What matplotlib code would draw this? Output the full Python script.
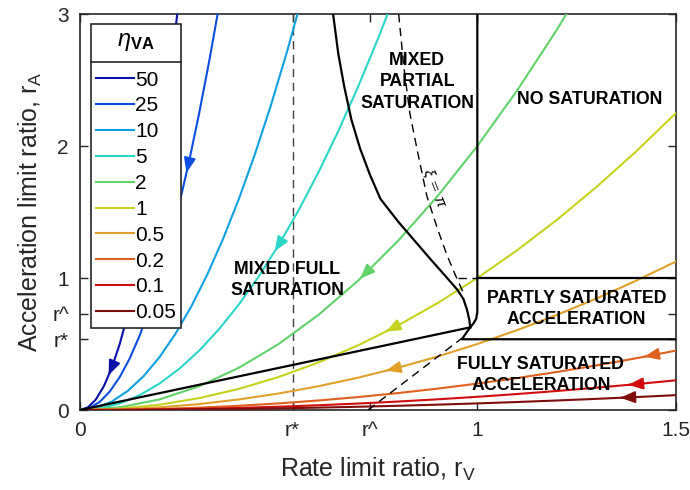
import numpy as np
import matplotlib
matplotlib.use('Agg')
import matplotlib.pyplot as plt
from matplotlib.lines import Line2D

plt.rcParams['font.family'] = ['Liberation Sans', 'DejaVu Sans']
plt.rcParams['mathtext.fontset'] = 'custom'
plt.rcParams['mathtext.rm'] = 'Liberation Sans'
plt.rcParams['mathtext.it'] = 'Liberation Sans:italic'
plt.rcParams['mathtext.bf'] = 'Liberation Sans:bold'

# ---------------- data ----------------
eta_labels = ['50', '25', '10', '5', '2', '1', '0.5', '0.2', '0.1', '0.05']
eta_colors = ['#0a10a8', '#0c4ee0', '#0ea0e0', '#2ad6c8', '#62d26a',
              '#c6d21e', '#e0a02a', '#e0601e', '#d00c0c', '#800c0c']

rV_50 = [0, 0.02, 0.04, 0.06, 0.08, 0.10, 0.12, 0.14, 0.16, 0.18, 0.20, 0.22, 0.24, 0.26]
rA_50 = [0, 0.02, 0.08, 0.18, 0.32, 0.50, 0.72, 0.98, 1.28, 1.62, 2.00, 2.42, 2.88, 3.38]

rV_25 = [0, 0.025, 0.05, 0.075, 0.10, 0.125, 0.15, 0.175, 0.20, 0.225, 0.25, 0.275, 0.30, 0.325, 0.35]
rA_25 = [0, 0.016, 0.0625, 0.14, 0.25, 0.39, 0.5625, 0.766, 1.00, 1.266, 1.5625, 1.89, 2.25, 2.64, 3.06]

rV_10 = [0, 0.04, 0.08, 0.12, 0.16, 0.20, 0.24, 0.28, 0.32, 0.36, 0.40, 0.44, 0.48, 0.52, 0.56]
rA_10 = [0, 0.016, 0.064, 0.144, 0.256, 0.40, 0.576, 0.784, 1.024, 1.296, 1.60, 1.936, 2.304, 2.704, 3.136]

rV_5 = [0, 0.05, 0.10, 0.15, 0.20, 0.25, 0.30, 0.35, 0.40, 0.45, 0.50, 0.55, 0.60, 0.65, 0.70, 0.75, 0.80]
rA_5 = [0, 0.0125, 0.05, 0.1125, 0.20, 0.3125, 0.45, 0.6125, 0.80, 1.0125, 1.25, 1.5125, 1.80, 2.1125, 2.45, 2.8125, 3.20]

rV_2 = [0, 0.1, 0.2, 0.3, 0.4, 0.5, 0.6, 0.7, 0.8, 0.9, 1.0, 1.1, 1.2, 1.3]
rA_2 = [0, 0.02, 0.08, 0.18, 0.32, 0.50, 0.72, 0.98, 1.28, 1.62, 2.00, 2.42, 2.88, 3.38]

rV_low = [0, 0.1, 0.2, 0.3, 0.4, 0.5, 0.6, 0.7, 0.8, 0.9, 1.0, 1.1, 1.2, 1.3, 1.4, 1.5]
rA_1 = [0, 0.01, 0.04, 0.09, 0.16, 0.25, 0.36, 0.49, 0.64, 0.81, 1.0, 1.21, 1.44, 1.69, 1.96, 2.25]
rA_05 = [0, 0.005, 0.02, 0.045, 0.08, 0.125, 0.18, 0.245, 0.32, 0.405, 0.5, 0.605, 0.72, 0.845, 0.98, 1.125]
rA_02 = [0, 0.002, 0.008, 0.018, 0.032, 0.05, 0.072, 0.098, 0.128, 0.162, 0.2, 0.242, 0.288, 0.338, 0.392, 0.45]
rA_01 = [0, 0.001, 0.004, 0.009, 0.016, 0.025, 0.036, 0.049, 0.064, 0.081, 0.1, 0.121, 0.144, 0.169, 0.196, 0.225]
rA_005 = [0, 0.0005, 0.002, 0.0045, 0.008, 0.0125, 0.018, 0.0245, 0.032, 0.0405, 0.05, 0.0605, 0.072, 0.0845, 0.098, 0.1125]

# where the direction arrows sit on each curve (rV of arrow tip), None = no arrow
arrow_rV = [0.072, 0.268, None, 0.49, 0.705, 0.77, 0.77, 1.42, 1.38, 1.36]

r_star = 0.535
r_hat = 0.73

# region boundaries
line_rV = [0.0, 0.982]
line_rA = [0.0, 0.626]
mixed_full_rV = [0.637, 0.650, 0.665, 0.683, 0.705, 0.730, 0.756, 0.80, 0.84, 0.88, 0.924, 0.950, 0.965, 0.974, 0.980, 0.982]
mixed_full_rA = [3.00, 2.70, 2.45, 2.20, 1.98, 1.78, 1.60, 1.43, 1.29, 1.15, 1.00, 0.91, 0.84, 0.76, 0.68, 0.626]
nosat_rV = [1.0, 1.0, 0.997, 0.990, 0.982, 0.961, 1.5]
nosat_rA = [3.0, 0.74, 0.69, 0.655, 0.626, 0.536, 0.536]
partly_rV = [1.0, 1.5]
partly_rA = [1.0, 1.0]
partly_dash_rV = [0.952, 1.0]
partly_dash_rA = [1.0, 1.0]
xi_rV = [0.802, 0.815, 0.830, 0.850, 0.873, 0.900, 0.924, 0.945, 0.966]
xi_rA = [3.00, 2.60, 2.25, 1.95, 1.62, 1.37, 1.17, 1.02, 0.88]
lower_dash_rV = [0.725, 0.961]
lower_dash_rA = [0.0, 0.543]

x_ticks = [0, r_star, r_hat, 1, 1.5]
x_ticklabels = ['0', 'r*', 'r^', '1', '1.5']
y_ticks = [0, r_star, r_hat, 1, 2, 3]
y_ticklabels = ['0', 'r*', 'r^', '1', '2', '3']

curves_rV = [rV_50, rV_25, rV_10, rV_5, rV_2, rV_low, rV_low, rV_low, rV_low, rV_low]
curves_rA = [rA_50, rA_25, rA_10, rA_5, rA_2, rA_1, rA_05, rA_02, rA_01, rA_005]

# ---------------- figure ----------------
fig = plt.figure(figsize=(6.9, 4.9), dpi=100)
ax = fig.add_axes([80 / 690, 1 - 410 / 490, 596 / 690, 396 / 490])
spine_c = '#262626'

handles = []
for xs, ys, c, lab, ar in zip(curves_rV, curves_rA, eta_colors, eta_labels, arrow_rV):
    ax.plot(xs, ys, color=c, lw=1.5, zorder=3)
    handles.append(Line2D([], [], color=c, lw=1.5, label=lab))
    if ar is not None:
        tip = (ar, np.interp(ar, xs, ys))
        tail = (ar + 0.004, np.interp(ar + 0.004, xs, ys))
        ax.annotate('', xy=tip, xytext=tail,
                    arrowprops=dict(arrowstyle='-|>,head_length=0.62,head_width=0.25',
                                    color=c, lw=1.5, shrinkA=0, shrinkB=0,
                                    mutation_scale=14), zorder=4)

# boundaries
dash = (0, (6, 4))
ax.plot([r_star, r_star], [0, 3], color='#404040', lw=1.0, ls=dash, zorder=2)
ax.plot(line_rV, line_rA, color='black', lw=1.6, zorder=3)
ax.plot(mixed_full_rV, mixed_full_rA, color='black', lw=1.6, zorder=3)
ax.plot(nosat_rV, nosat_rA, color='black', lw=1.6, zorder=3)
ax.plot(partly_rV, partly_rA, color='black', lw=1.6, zorder=3)
ax.plot(partly_dash_rV, partly_dash_rA, color='black', lw=1.0, ls=dash, zorder=3)
ax.plot(xi_rV, xi_rA, color='black', lw=1.0, ls=dash, zorder=3)
ax.plot(lower_dash_rV, lower_dash_rA, color='black', lw=1.0, ls=dash, zorder=3)

# region labels
tkw = dict(ha='center', va='center', fontsize=12.8, fontweight='bold', linespacing=1.33, zorder=5)
ax.text(0.849, 2.485, 'MIXED\nPARTIAL\nSATURATION', **tkw)
ax.text(1.283, 2.355, 'NO SATURATION', **tkw)
ax.text(0.521, 0.985, 'MIXED FULL\nSATURATION', **tkw)
ax.text(1.25, 0.765, 'PARTLY SATURATED\nACCELERATION', **tkw)
ax.text(1.16, 0.265, 'FULLY SATURATED\nACCELERATION', **tkw)
ax.text(0.892, 1.68, r'$\xi$ = $\pi$', ha='center', va='center', fontsize=11,
        rotation=-68, zorder=5, family=['DejaVu Serif'])

ax.set_xlim(0, 1.5)
ax.set_ylim(0, 3)
ax.set_xticks(x_ticks)
ax.set_xticklabels(x_ticklabels)
ax.set_yticks(y_ticks)
ax.set_yticklabels(y_ticklabels)
ax.tick_params(direction='in', length=6, width=1.0, colors=spine_c, labelsize=15,
               top=True, right=True, pad=8)
for s in ax.spines.values():
    s.set_color(spine_c)
    s.set_linewidth(1.2)

ax.set_xlabel('Rate limit ratio, r$_{\\rm V}$', fontsize=18, color='#262626', labelpad=11)
ax.set_ylabel('Acceleration limit ratio, r$_{\\rm A}$', fontsize=18, color='#262626', labelpad=6)

leg = ax.legend(handles=handles, title='$\\eta_{\\mathbf{VA}}$', loc='upper left',
                bbox_to_anchor=(11 / 596, 386 / 396), borderaxespad=0, fontsize=15,
                title_fontsize=17, handlelength=1.82, handletextpad=0.05,
                labelspacing=0.33, borderpad=0.25, fancybox=False, framealpha=1,
                edgecolor=spine_c)
leg.get_frame().set_linewidth(1.2)
leg.set_zorder(10)

W, H = fig.bbox.width, fig.bbox.height
# adjust gap between the title and the entries so the first entry sits at the reference spot
fig.canvas.draw()
r = fig.canvas.get_renderer()
t0 = leg.get_texts()[0].get_window_extent(r)
first_center_from_top = H - (t0.y0 + t0.y1) / 2
leg._legend_box.sep += (80 - first_center_from_top) * 72 / fig.dpi
fig.canvas.draw()
r = fig.canvas.get_renderer()
lb = leg.get_window_extent(r)
t0 = leg.get_texts()[0].get_window_extent(r)
ysep = (t0.y0 + t0.y1) / 2 + 18
fig.add_artist(Line2D([lb.x0 / W, lb.x1 / W], [ysep / H, ysep / H], color=spine_c,
                      lw=1.2, transform=fig.transFigure, zorder=20))

fig.savefig('out.png', dpi=100)
